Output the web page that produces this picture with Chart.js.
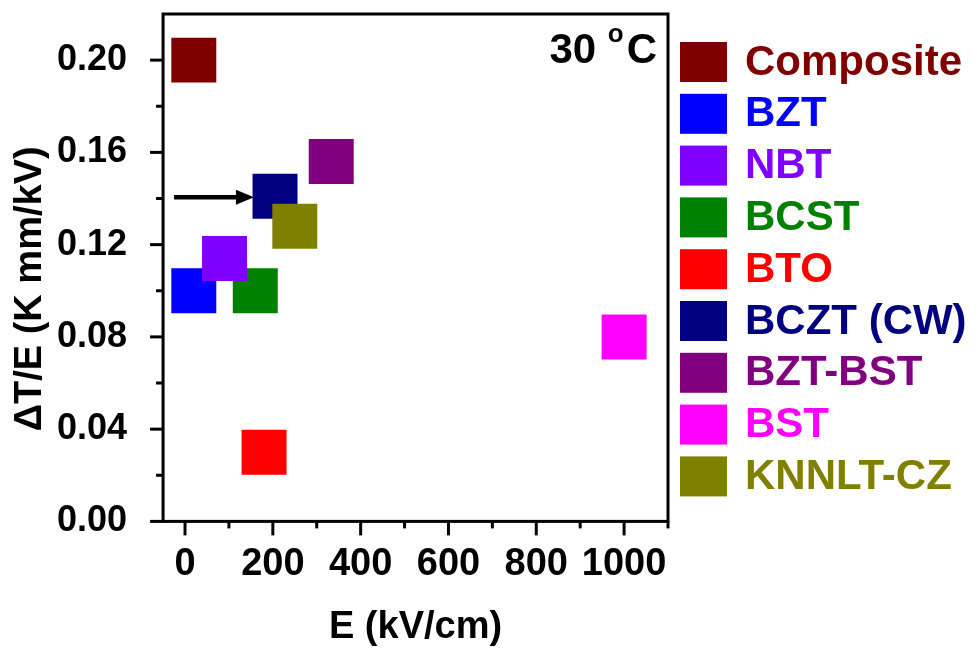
<!DOCTYPE html>
<html>
<head>
<meta charset="utf-8">
<script src="https://cdn.jsdelivr.net/npm/chart.js@4/dist/chart.umd.min.js"></script>
<style>
  html, body { margin: 0; padding: 0; background: #ffffff; }
  #wrap { width: 976px; height: 650px; }
</style>
</head>
<body>
<div id="wrap"><canvas id="c" width="976" height="650"></canvas></div>
<script>
// ---- data ----
const materials = ['Composite', 'BZT', 'NBT', 'BCST', 'BTO', 'BCZT (CW)', 'BZT-BST', 'BST', 'KNNLT-CZ'];
const fieldE    = [20, 20, 90, 160, 180, 205, 333, 1000, 250];          // E (kV/cm)
const dTperE    = [0.200, 0.100, 0.114, 0.100, 0.030, 0.141, 0.156, 0.080, 0.128]; // ΔT/E (K mm/kV)
const colors    = ['#800000', '#0000FF', '#8000FF', '#008000', '#FF0000', '#000080', '#800080', '#FF00FF', '#808000'];
const xTickValues  = [0, 200, 400, 600, 800, 1000];
const xMinorValues = [100, 300, 500, 700, 900, 1100];
const yTickValues  = [0, 0.04, 0.08, 0.12, 0.16, 0.20];
const yMinorValues = [0.02, 0.06, 0.10, 0.14, 0.18];
const arrowStart = [-25, 0.1405];
const arrowEnd   = [157, 0.1405];
const tempParts  = ['30 ', 'o', 'C'];

const FONT = '"Liberation Sans", Arial, Helvetica, sans-serif';

// legend drawn beside the plot from the chart's own datasets
const sideLegend = {
  id: 'sideLegend',
  afterDraw(chart) {
    const {ctx, chartArea: a} = chart;
    const left = a.right + 12;
    ctx.save();
    ctx.font = 'bold 42px ' + FONT;
    ctx.textBaseline = 'middle';
    ctx.textAlign = 'left';
    chart.data.datasets.forEach((ds, i) => {
      const top = a.top + 28 + i * 51.8;
      ctx.fillStyle = ds.backgroundColor;
      ctx.fillRect(left, top, 47, 40);
      ctx.fillText(ds.label, left + 65, top + 21);
    });
    ctx.restore();
  }
};

const decor = {
  id: 'decor',
  afterDatasetsDraw(chart) {
    const {ctx, scales: {x, y}} = chart;
    const x1 = x.getPixelForValue(arrowStart[0]);
    const y1 = y.getPixelForValue(arrowStart[1]);
    const x2 = x.getPixelForValue(arrowEnd[0]);
    const y2 = y.getPixelForValue(arrowEnd[1]);
    ctx.save();
    ctx.strokeStyle = '#000';
    ctx.fillStyle = '#000';
    ctx.lineWidth = 4.5;
    ctx.beginPath();
    ctx.moveTo(x1, y1);
    ctx.lineTo(x2 - 14, y2);
    ctx.stroke();
    ctx.beginPath();
    ctx.moveTo(x2, y2);
    ctx.lineTo(x2 - 18, y2 - 7.5);
    ctx.lineTo(x2 - 18, y2 + 7.5);
    ctx.closePath();
    ctx.fill();
    ctx.restore();
  },
  afterDraw(chart) {
    const {ctx, chartArea: a, scales: {x, y}} = chart;
    ctx.save();
    ctx.strokeStyle = '#000';
    ctx.lineWidth = 3;
    ctx.lineCap = 'butt';
    const seg = (ax, ay, bx, by) => { ctx.beginPath(); ctx.moveTo(ax, ay); ctx.lineTo(bx, by); ctx.stroke(); };
    xTickValues.forEach(v => { const p = x.getPixelForValue(v); seg(p, a.bottom, p, a.bottom + 14); });
    xMinorValues.forEach(v => { const p = x.getPixelForValue(v); seg(p, a.bottom, p, a.bottom + 7); });
    yTickValues.forEach(v => { const p = y.getPixelForValue(v); seg(a.left - 13, p, a.left, p); });
    yMinorValues.forEach(v => { const p = y.getPixelForValue(v); seg(a.left - 7, p, a.left, p); });
    ctx.strokeRect(a.left, a.top, a.right - a.left, a.bottom - a.top);

    // "30 °C" label
    ctx.fillStyle = '#000';
    ctx.textBaseline = 'alphabetic';
    ctx.textAlign = 'left';
    const big = 'bold 42px ' + FONT;
    const small = 'bold 26px ' + FONT;
    ctx.font = big;
    const w0 = ctx.measureText(tempParts[0]).width;
    const w2 = ctx.measureText(tempParts[2]).width;
    ctx.font = small;
    const w1 = ctx.measureText(tempParts[1]).width;
    const gap = 3;
    const right = a.right - 11;
    const base = a.top + 49;
    let cx = right - (w0 + w1 + gap + w2);
    ctx.font = big;
    ctx.fillText(tempParts[0], cx, base);
    cx += w0;
    ctx.font = small;
    ctx.fillText(tempParts[1], cx, base - 21);
    cx += w1 + gap;
    ctx.font = big;
    ctx.fillText(tempParts[2], cx, base);
    ctx.restore();
  }
};

const datasets = materials.map((m, i) => ({
  label: m,
  data: [{x: fieldE[i], y: dTperE[i]}],
  backgroundColor: colors[i],
  borderColor: colors[i],
  pointStyle: 'rect',
  pointRadius: 31.8,
  pointHoverRadius: 31.8,
  pointBorderWidth: 0,
  borderWidth: 0,
  order: m === 'NBT' ? 0 : materials.length - i
}));

new Chart(document.getElementById('c'), {
  type: 'scatter',
  data: { datasets },
  plugins: [decor, sideLegend],
  options: {
    responsive: false,
    devicePixelRatio: 1,
    animation: false,
    events: [],
    layout: { autoPadding: false, padding: { left: 0, top: 14, right: 308, bottom: 3 } },
    plugins: {
      tooltip: { enabled: false },
      legend: { display: false }
    },
    scales: {
      x: {
        type: 'linear',
        position: 'bottom',
        min: -50,
        max: 1100,
        afterBuildTicks(scale) { scale.ticks = xTickValues.map(v => ({value: v})); },
        border: { display: false },
        grid: { drawOnChartArea: false, drawTicks: true, tickLength: 13, tickColor: 'rgba(0,0,0,0)' },
        ticks: {
          padding: 7,
          color: '#000',
          maxRotation: 0,
          font: { family: FONT, size: 38, weight: 'bold', lineHeight: 1.2 },
          callback: v => String(v)
        },
        title: {
          display: true,
          text: 'E (kV/cm)',
          color: '#000',
          font: { family: FONT, size: 38, weight: 'bold', lineHeight: 1 },
          padding: { top: 15, bottom: 0 }
        }
      },
      y: {
        type: 'linear',
        position: 'left',
        min: 0,
        max: 0.22,
        afterBuildTicks(scale) { scale.ticks = yTickValues.map(v => ({value: v})); },
        border: { display: false },
        grid: { drawOnChartArea: false, drawTicks: true, tickLength: 36, tickColor: 'rgba(0,0,0,0)' },
        ticks: {
          padding: 0,
          color: '#000',
          font: { family: FONT, size: 36, weight: 'bold', lineHeight: 0.6 },
          callback: v => Number(v).toFixed(2)
        },
        title: {
          display: true,
          text: 'ΔT/E (K mm/kV)    ',
          color: '#000',
          font: { family: FONT, size: 38, weight: 'bold', lineHeight: 1 },
          padding: { top: 12, bottom: 7 }
        }
      }
    }
  }
});
</script>
</body>
</html>
